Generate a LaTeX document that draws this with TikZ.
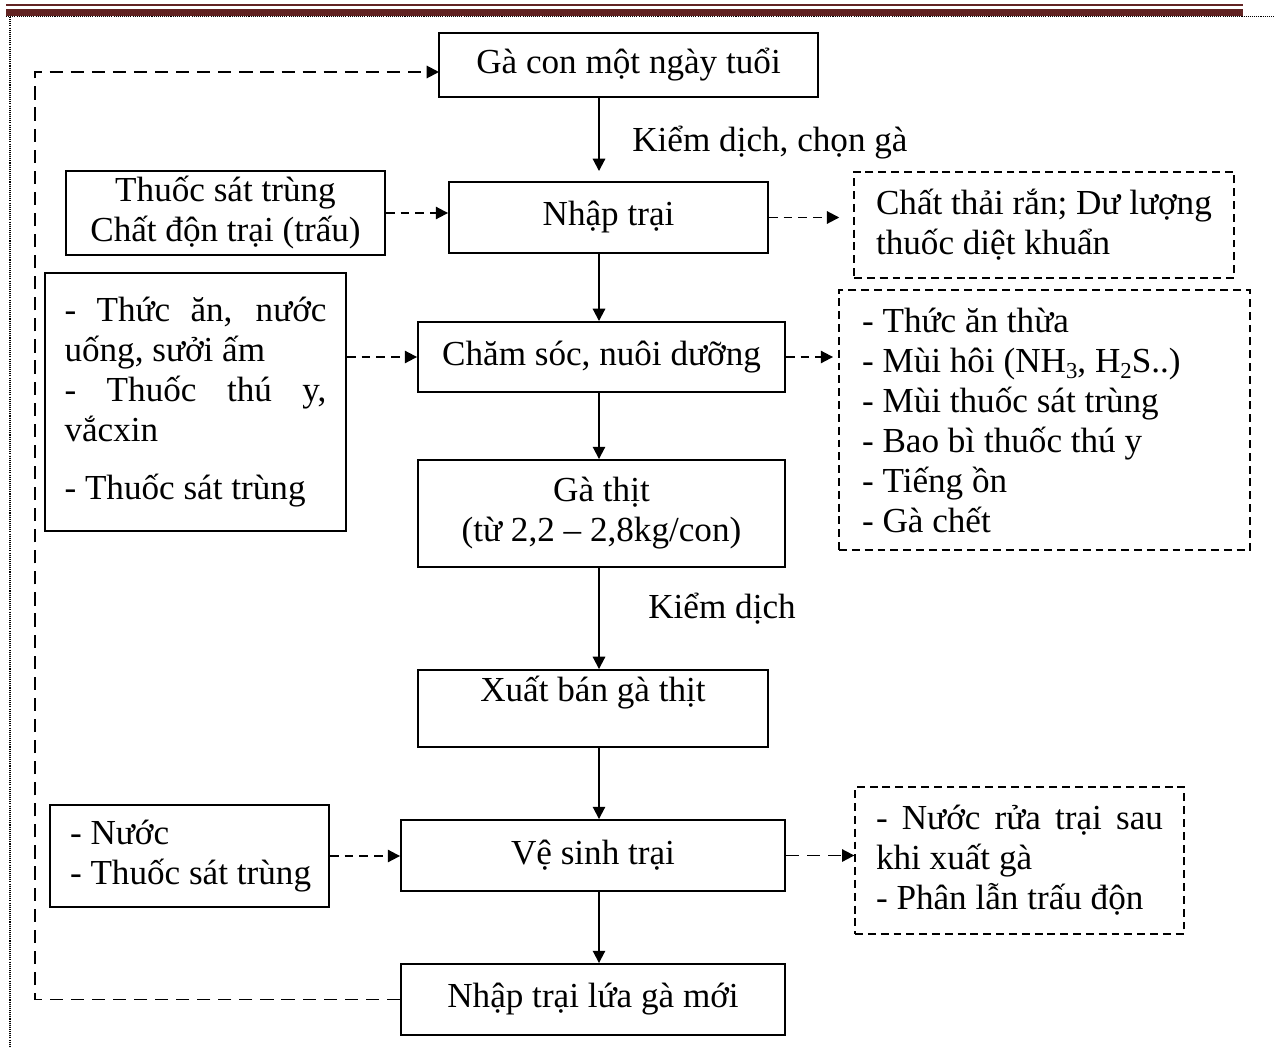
\documentclass[tikz,border=0pt]{standalone}
\usepackage{fontspec}
\setmainfont{Liberation Serif}
\usetikzlibrary{arrows.meta,calc}
\definecolor{hdrred}{HTML}{622423}
\newcommand{\chemsub}[1]{\raisebox{-0.18em}{\fontsize{13pt}{13pt}\selectfont #1}}
\begin{document}
\begin{tikzpicture}[x=0.02cm,y=-0.02cm,
  font=\fontsize{20pt}{22.76pt}\selectfont,
  box/.style={draw, line width=1.1pt, inner sep=0pt, align=center},
  dbox/.style={draw, line width=0.8pt, dash pattern=on 4.5pt off 2.8pt, inner ysep=0pt},
  flow/.style={line width=1.1pt, -{Triangle[length=7pt,width=7pt]}},
  side/.style={line width=1.1pt, dash pattern=on 5pt off 3.4pt, -{Triangle[length=7pt,width=7pt]}},
  loopline/.style={line width=1.1pt, dash pattern=on 7.5pt off 4.5pt},
  lbl/.style={inner sep=0pt, anchor=base west}
]
\useasboundingbox (0,0) rectangle (1275,1048);
% header rules and page frame
\fill[hdrred] (6,4) rectangle (1243,6);
\fill[hdrred] (6,9) rectangle (1243,16);
\draw[line width=0.6pt, dash pattern=on 0.6pt off 0.6pt] (6,16.5) -- (1275,16.5);
\draw[line width=0.6pt, dash pattern=on 0.6pt off 0.6pt] (10,17) -- (10,1048);

\coordinate (axis) at (599,0);

% main column
\node[box, minimum width=7.58cm, minimum height=1.28cm] (chick) at (628.5,65) {Gà con một ngày tuổi};
\node[box, minimum width=6.38cm, minimum height=1.42cm] (nhap) at (608.5,217.5) {Nhập trại};
\node[box, minimum width=7.34cm, minimum height=1.4cm] (chs) at (601.5,357) {Chăm sóc, nuôi dưỡng};
\node[box, minimum width=7.34cm, minimum height=2.14cm] (gathit) at (601.5,513.5) {Gà thịt\\(từ 2,2 – 2,8kg/con)};
\node[box, minimum width=7.0cm, minimum height=1.54cm] (xuat) at (593,708.5) {Xuất bán gà thịt\\\mbox{}};
\node[box, minimum width=7.68cm, minimum height=1.42cm] (vesinh) at (593,855.5) {Vệ sinh trại};
\node[box, minimum width=7.68cm, minimum height=1.42cm] (newlot) at (593,999.5) {Nhập trại lứa gà mới};

% labels
\node[lbl] (lab1) at (632,151) {Kiểm dịch, chọn gà};
\node[lbl] (lab2) at (648,618) {Kiểm dịch};

% input boxes
\node[box, minimum width=6.38cm, minimum height=1.68cm] (inp1) at (225.5,213) {Thuốc sát trùng\\Chất độn trại (trấu)};
\node[box, minimum width=6.02cm, minimum height=5.16cm, inner xsep=0.39cm, text width=5.24cm, align=justify] (inp2) at (195.5,402)
  {- Thức ăn, nước\linebreak uống, sưởi ấm\par - Thuốc thú y,\linebreak vắcxin\par\vspace{0.36cm}- Thuốc sát trùng};
\node[box, minimum width=5.58cm, minimum height=2.04cm, inner xsep=0.4cm, text width=4.78cm, align=flush left] (inp3) at (189.5,856)
  {\mbox{- Nước}\\\mbox{- Thuốc sát trùng}};

% output boxes
\node[dbox, minimum width=7.6cm, minimum height=2.12cm, inner xsep=0.44cm, text width=6.72cm, align=flush left] (out1) at (1044,225)
  {\mbox{Chất thải rắn; Dư lượng}\\\mbox{thuốc diệt khuẩn}};
\node[dbox, minimum width=8.22cm, minimum height=5.2cm, inner xsep=0.46cm, text width=7.3cm, align=flush left] (out2) at (1044.5,420)
  {\mbox{- Thức ăn thừa}\\\mbox{- Mùi hôi (NH\chemsub{3}, H\chemsub{2}S..)}\\\mbox{- Mùi thuốc sát trùng}\\\mbox{- Bao bì thuốc thú y}\\\mbox{- Tiếng ồn}\\\mbox{- Gà chết}};
\node[dbox, minimum width=6.58cm, minimum height=2.94cm, inner xsep=0.42cm, text width=5.74cm, align=justify] (out3) at (1019.5,860.5)
  {- Nước rửa trại sau\linebreak khi xuất gà\par - Phân lẫn trấu độn};

% main flow
\draw[flow, shorten >=10*0.569pt] (chick.south -| axis) -- (nhap.north -| axis);
\draw[flow] (nhap.south -| axis) -- (chs.north -| axis);
\draw[flow] (chs.south -| axis) -- (gathit.north -| axis);
\draw[flow] (gathit.south -| axis) -- (xuat.north -| axis);
\draw[flow] (xuat.south -| axis) -- (vesinh.north -| axis);
\draw[flow] (vesinh.south -| axis) -- (newlot.north -| axis);

% side flows
\draw[side] (inp1.east) -- (inp1.east -| nhap.west);
\draw[side, shorten >=8pt] (nhap.east) -- (nhap.east -| out1.west);
\draw[side] (chs.west -| inp2.east) -- (chs.west);
\draw[side, shorten >=3pt] (chs.east) -- (chs.east -| out2.west);
\draw[side] (inp3.east) -- (inp3.east -| vesinh.west);
\draw[loopline, -{Triangle[length=7pt,width=7pt]}] (vesinh.east) -- (vesinh.east -| out3.west);

% feedback loop
\coordinate (lpx) at (35,0);
\coordinate (chickin) at (439,72);
\draw[loopline, -{Triangle[length=7pt,width=7pt]}] (newlot.west) -- (newlot.west -| lpx) -- (lpx |- chickin) -- (chickin);
\end{tikzpicture}
\end{document}
